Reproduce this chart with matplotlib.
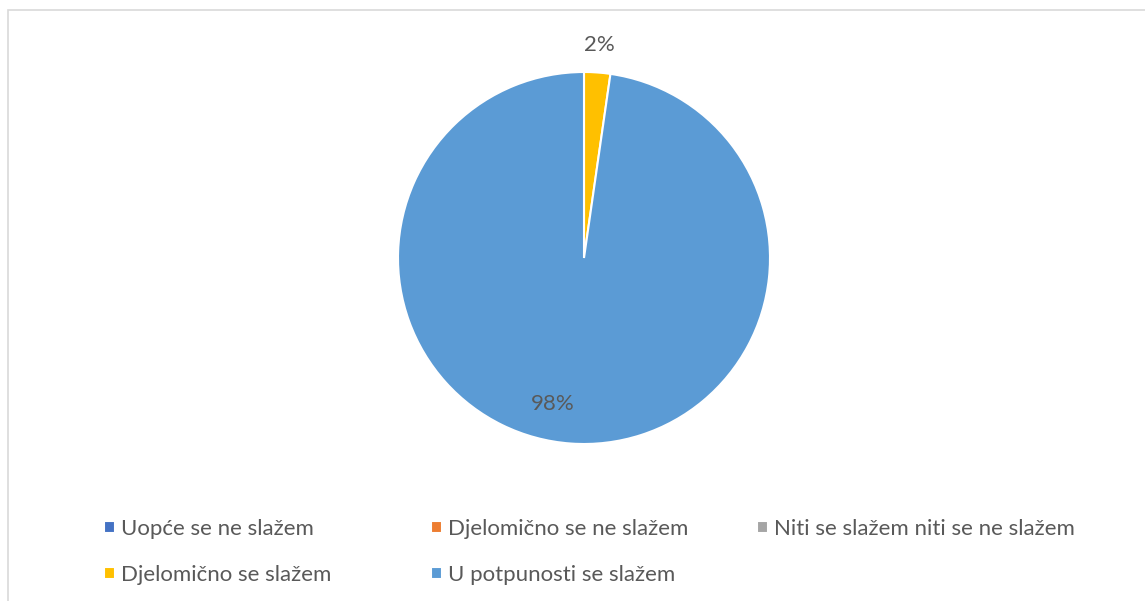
import matplotlib
matplotlib.use("Agg")
import matplotlib.pyplot as plt
from matplotlib.patches import Rectangle
import numpy as np

# odgovori (broj ispitanika)
kategorije = ["Uopće se ne slažem", "Djelomično se ne slažem",
              "Niti se slažem niti se ne slažem", "Djelomično se slažem",
              "U potpunosti se slažem"]
vrijednosti = [0, 0, 0, 1, 43]
boje = ["#4472C4", "#ED7D31", "#A5A5A5", "#FFC000", "#5B9BD5"]

W, H = 1145, 601
txt_col = "#595959"
plt.rcParams['font.family'] = ['Lato', 'DejaVu Sans']

fig = plt.figure(figsize=(W / 100, H / 100), dpi=100)

# okvir grafikona
fig.add_artist(Rectangle((8 / W, -0.2), 1.2, (H - 10) / H + 0.2,
                         transform=fig.transFigure, fill=False,
                         edgecolor="#d9d9d9", linewidth=1.2, clip_on=False))

cx, cy, r = 584, H - 258, 186
ax = fig.add_axes([(cx - r) / W, (cy - r) / H, 2 * r / W, 2 * r / H])


def pct(p):
    return "%d%%" % round(p) if p > 0.5 else ""


wedges, texts, autotexts = ax.pie(vrijednosti, colors=boje, startangle=90,
                                  counterclock=False, autopct=pct,
                                  pctdistance=1.15,
                                  wedgeprops=dict(edgecolor="white", linewidth=1.5),
                                  textprops=dict(color=txt_col, fontsize=16))
ax.set_xlim(-1, 1)
ax.set_ylim(-1, 1)

# oznaka velikog isječka unutar kruga
a = np.deg2rad(-102)
autotexts[4].set_position((0.8 * np.cos(a), 0.8 * np.sin(a)))

# legenda (redak po redak kao u Excelu)
leg_pos = [(104, 529), (431, 529), (757, 529), (104, 575), (431, 575)]
for w, lab, (px, py) in zip(wedges, kategorije, leg_pos):
    fig.legend([w], [lab], loc="center left",
               bbox_to_anchor=(px / W, 1 - py / H), frameon=False,
               borderpad=0, borderaxespad=0, handlelength=0.5,
               handleheight=0.5, handletextpad=0.28, fontsize=16,
               labelcolor=txt_col)

fig.savefig("out.png", dpi=100)
